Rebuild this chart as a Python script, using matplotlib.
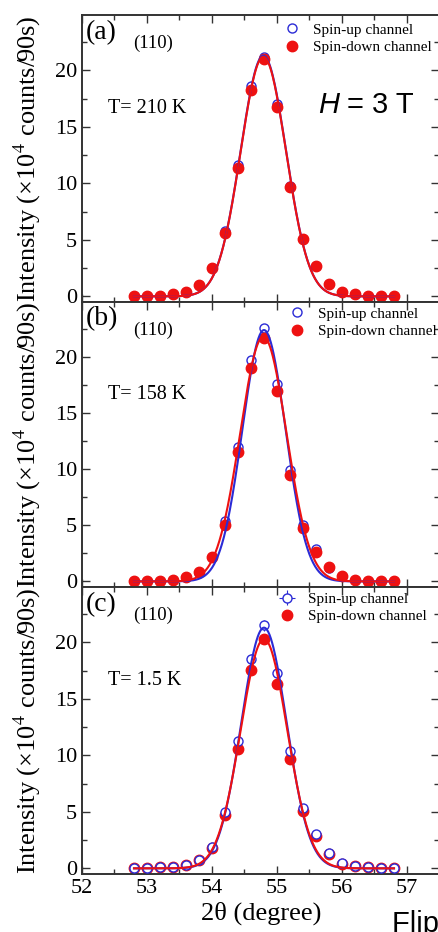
import matplotlib
matplotlib.use("Agg")
import matplotlib.pyplot as plt
import numpy as np
from matplotlib.ticker import MultipleLocator

plt.rcParams["font.family"] = ["Liberation Serif", "DejaVu Serif"]
plt.rcParams["mathtext.fontset"] = "stix"

two_theta = [52.8, 53.0, 53.2, 53.4, 53.6, 53.8, 54.0, 54.2, 54.4, 54.6, 54.8,
             55.0, 55.2, 55.4, 55.6, 55.8, 56.0, 56.2, 56.4, 56.6, 56.8]

# (a) T = 210 K
up_a = [0, 0, 0, 0.2, 0.35, 1.0, 2.5, 5.8, 11.6, 18.6, 21.2,
        17.0, 9.8, 5.1, 2.7, 1.1, 0.35, 0.2, 0.05, 0, 0]
down_a = [0, 0, 0, 0.2, 0.35, 1.0, 2.5, 5.6, 11.4, 18.3, 21.0,
          16.8, 9.7, 5.05, 2.7, 1.1, 0.35, 0.2, 0.05, 0, 0]
# (b) T = 158 K
up_b = [0, 0, 0, 0.1, 0.35, 0.75, 2.2, 5.4, 12.0, 19.7, 22.6,
        17.6, 9.9, 5.0, 2.9, 1.2, 0.5, 0.15, 0.05, 0, 0]
down_b = [0, 0, 0, 0.1, 0.4, 0.8, 2.15, 5.05, 11.55, 19.0, 21.7,
          17.0, 9.5, 4.75, 2.65, 1.25, 0.5, 0.15, 0.05, 0, 0]
# (c) T = 1.5 K
up_c = [0, 0, 0.1, 0.1, 0.3, 0.75, 1.85, 5.0, 11.3, 18.5, 21.5,
        17.25, 10.35, 5.35, 3.05, 1.35, 0.45, 0.2, 0.1, 0.05, 0.05]
down_c = [0, 0, 0.1, 0.1, 0.3, 0.7, 1.8, 4.7, 10.6, 17.55, 20.3,
          16.3, 9.7, 5.1, 2.9, 1.3, 0.4, 0.2, 0.1, 0.05, 0.05]
err_up_c = [0.25, 0.25, 0.25, 0.25, 0.25, 0.3, 0.3, 0.35, 0.4, 0.45, 0.45,
            0.45, 0.4, 0.35, 0.35, 0.1, 0.3, 0.3, 0.3, 0.25, 0.25]

# gaussian fits (amplitude, centre, fwhm)
fit_up_a = (21.3, 54.79, 0.82)
fit_down_a = (21.2, 54.79, 0.82)
fit_up_b = (22.4, 54.80, 0.78)
fit_down_b = (21.8, 54.79, 0.84)
fit_up_c = (21.3, 54.80, 0.82)
fit_down_c = (20.3, 54.80, 0.84)

panel_tags = ["(a)", "(b)", "(c)"]
temps = ["T= 210 K", "T= 158 K", "T= 1.5 K"]

BLUE = "#2b2bd6"
RED = "#ee1111"
W, H = 439, 932


def gauss(x, p):
    a, x0, fwhm = p
    s = fwhm / 2.3548
    return a * np.exp(-(x - x0) ** 2 / (2 * s * s))


fig = plt.figure(figsize=(W / 100, H / 100), dpi=100)

tops = [15, 302, 587]
bots = [302, 587, 874]
left_px, right_px = 82, 439.5
leg_anchor = [(0.566, 0.972), (0.580, 0.982), (0.552, 0.982)]

data = [(up_a, down_a, fit_up_a, fit_down_a),
        (up_b, down_b, fit_up_b, fit_down_b),
        (up_c, down_c, fit_up_c, fit_down_c)]

xs = np.linspace(52.8, 56.8, 400)
for i in range(3):
    ax = fig.add_axes([left_px / W, 1 - bots[i] / H,
                       (right_px - left_px) / W, (bots[i] - tops[i]) / H])
    up, down, fu, fd = data[i]
    if i < 2:
        ax.plot(two_theta, up, "o", ms=6.5, mfc="none", mec=BLUE, mew=1.0,
                label="Spin-up channel", zorder=2)
        ax.plot(two_theta, down, "o", ms=7.5, color=RED, mec=RED,
                label="Spin-down channel", zorder=3)
        ax.plot(xs, gauss(xs, fu), color=BLUE, lw=1.5, zorder=4)
        ax.plot(xs, gauss(xs, fd), color=RED, lw=1.5, zorder=5)
    else:
        ax.plot(two_theta, down, "o", ms=7.5, color=RED, mec=RED,
                label="Spin-down channel", zorder=2)
        ax.errorbar(two_theta, up, yerr=err_up_c, xerr=0.035, fmt="o", ms=6.5,
                    mfc="white", mec=BLUE, mew=1.0, ecolor=BLUE, elinewidth=0.8,
                    capsize=0, label="Spin-up channel", zorder=3)
        ax.plot(xs, gauss(xs, fu), color=BLUE, lw=1.5, zorder=4)
        ax.plot(xs, gauss(xs, fd), color=RED, lw=1.5, zorder=5)

    ax.set_xlim(52, 57.5)
    ax.set_ylim(-0.5, 24.9)
    ax.xaxis.set_major_locator(MultipleLocator(1))
    ax.xaxis.set_minor_locator(MultipleLocator(0.5))
    ax.yaxis.set_major_locator(MultipleLocator(5))
    ax.yaxis.set_minor_locator(MultipleLocator(2.5))
    ax.tick_params(which="both", direction="in", top=True, right=True,
                   labelsize=16, color="#333333", width=1)
    ax.tick_params(which="major", length=6)
    ax.tick_params(which="minor", length=3.5)
    for sp in ax.spines.values():
        sp.set_color("#333333")
        sp.set_linewidth(1.4)
    if i < 2:
        ax.tick_params(labelbottom=False)
    else:
        ax.set_xlabel("2θ (degree)", fontsize=19)
        ax.xaxis.set_label_coords(0.5, -0.095)
    ax.set_ylabel("Intensity (×10$^4$ counts/90s)", fontsize=19)
    ax.yaxis.set_label_coords(-0.11, 0.5)

    handles, labels = ax.get_legend_handles_labels()
    order = [labels.index("Spin-up channel"), labels.index("Spin-down channel")]
    ax.legend([handles[k] for k in order], [labels[k] for k in order],
              loc="upper left", bbox_to_anchor=leg_anchor[i], frameon=False,
              fontsize=11, borderpad=0, borderaxespad=0, handlelength=1.0,
              handletextpad=0.9, labelspacing=0.25)

    ax.text(0.011, 0.94, panel_tags[i], transform=ax.transAxes, fontsize=20,
            va="center", ha="left")
    ax.text(0.143, 0.90, "(110)", transform=ax.transAxes, fontsize=13.5,
            va="center", ha="left")
    ax.text(0.073, 0.675, temps[i], transform=ax.transAxes, fontsize=14.5,
            va="center", ha="left")
    if i == 0:
        ax.text(0.66, 0.686, "H", transform=ax.transAxes, fontsize=21,
                va="center", ha="left", family="Liberation Sans",
                style="italic")
        ax.text(0.742, 0.686, "= 3 T", transform=ax.transAxes, fontsize=21,
                va="center", ha="left", family="Liberation Sans")

fig.text(392 / W, 1 - 910 / H, "Flipping ratio", fontsize=21,
         family="Liberation Sans", va="top", ha="left")

fig.savefig("out.png", dpi=100)
